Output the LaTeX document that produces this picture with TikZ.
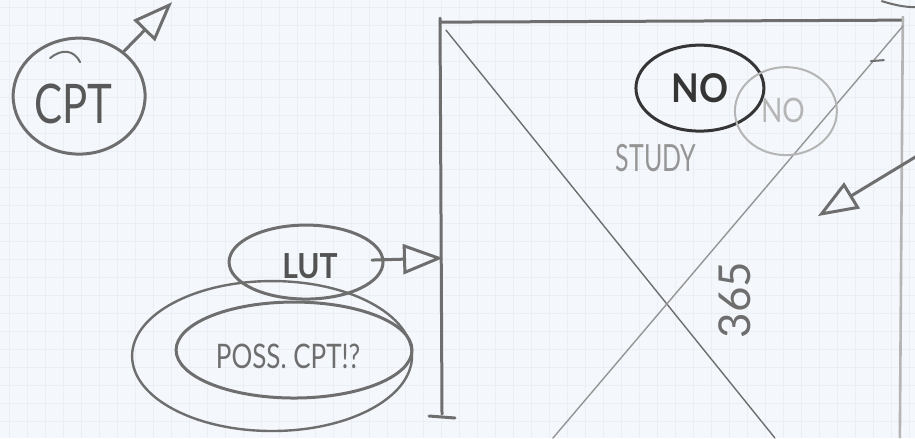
\documentclass[tikz,border=0pt]{standalone}
\usepackage{fontspec}
\setmainfont{Lato}
\usetikzlibrary{arrows.meta,shapes.geometric}
\definecolor{paper}{HTML}{F4F7FB}
\definecolor{gridc}{HTML}{EAEFF5}
\definecolor{pencil}{HTML}{6E6E6E}
\definecolor{pencildark}{HTML}{353535}
\definecolor{pencillight}{HTML}{959595}
\definecolor{pencilfaint}{HTML}{B5B5B5}
\tikzset{
  sketch/.style={draw=pencil, line width=3pt, line cap=round, line join=round},
  thinsketch/.style={draw=pencillight, line width=1.4pt, line cap=round},
  bubble/.style={ellipse, sketch, inner sep=0pt},
  handtext/.style={text=pencil, inner sep=0pt},
  openhead/.style={-{Triangle[open,length=40pt,width=30pt,line width=3pt]}}
}
\begin{document}
\begin{tikzpicture}[x=1pt,y=-1pt]
  % paper
  \fill[paper] (0,0) rectangle (915,438);
  \foreach \gx in {9,27,...,915} \draw[gridc, line width=0.3pt] (\gx,0) -- (\gx,438);
  \foreach \gy in {7,25,...,438} \draw[gridc, line width=0.3pt] (0,\gy) -- (915,\gy);
  \useasboundingbox (0,0) rectangle (915,438);

  % CPT bubble and arrow
  \node[bubble, minimum width=132pt, minimum height=116pt] (cpt) at (79,96) {};
  \draw[sketch, line width=2pt] (50,58) .. controls (62,48) and (74,50) .. (80,62);
  \node[handtext, text=pencil!80!black, font=\fontsize{42}{42}\selectfont, yscale=1.3] (cpttext) at (73,104) {CPT};
  \coordinate (cpttip) at (172,2);
  \draw[sketch, openhead] (cpt.45) -- (cpttip);

  % LUT bubble and arrow
  \node[bubble, minimum width=154pt, minimum height=74pt] (lut) at (306,262) {};
  \node[handtext, text=pencil!75!black, font=\bfseries\fontsize{30}{30}\selectfont, yscale=1.15] (luttext) at (310,266) {LUT};
  \coordinate (lutstart) at (372,260);
  \coordinate (boxL) at (443,258);
  \draw[sketch, openhead] (lutstart) -- (boxL);

  % Poss. CPT!? bubbles
  \node[bubble, line width=2.4pt, minimum width=280pt, minimum height=150pt] (possouter) at (272,356) {};
  \node[bubble, minimum width=236pt, minimum height=96pt] (poss) at (294,350) {};
  \node[handtext, font=\fontsize{26}{26}\selectfont, yscale=1.3] (posstext) at (288,356) {POSS. CPT!?};

  % box
  \coordinate (tl) at (440,22);
  \coordinate (tr) at (903,20);
  \coordinate (bl) at (442,414);
  \coordinate (br) at (900,438);
  \draw[sketch] (tl) -- (tr);
  \draw[sketch] ([yshift=4pt]tl) -- (bl);
  \draw[sketch] (429,416) -- (455,418);
  \draw[draw=pencilfaint, line width=2.6pt] ([yshift=4pt]tr) -- (br);

  % diagonals
  \coordinate (d1a) at (446,30);
  \coordinate (d1b) at (775,438);
  \coordinate (d2a) at (903,26);
  \coordinate (d2b) at (553,438);
  \draw[thinsketch, draw=pencil] (d1a) -- (d1b);
  \draw[thinsketch] (d2a) -- (d2b);
  \draw[sketch, line width=2pt] (871,61) -- (884,60);

  % NO bubbles
  \node[bubble, draw=pencildark, minimum width=128pt, minimum height=86pt] (no) at (700,88) {};
  \node[handtext, text=pencildark, font=\bfseries\fontsize{36}{36}\selectfont, yscale=1.1] (notext) at (700,88) {NO};
  \node[bubble, draw=pencilfaint, line width=2pt, minimum width=102pt, minimum height=88pt] (nofaint) at (786,111) {};
  \node[handtext, text=pencilfaint, font=\fontsize{28}{28}\selectfont, yscale=1.2] (nofainttext) at (783,110) {NO};
  \node[handtext, text=pencillight, font=\fontsize{25}{25}\selectfont, yscale=1.5] (study) at (656,158) {STUDY};

  % 365
  \node[handtext, text=pencil, font=\fontsize{44}{44}\selectfont, rotate=90] (days) at (735,300) {365};

  % right arrow
  \coordinate (rin) at (917,156);
  \coordinate (rtip) at (818,216);
  \draw[sketch, openhead] (rin) -- (rtip);

  % stray stroke top right
  \draw[sketch, line width=2pt] (882,1) .. controls (895,5) and (905,7) .. (915,7);
\end{tikzpicture}
\end{document}
